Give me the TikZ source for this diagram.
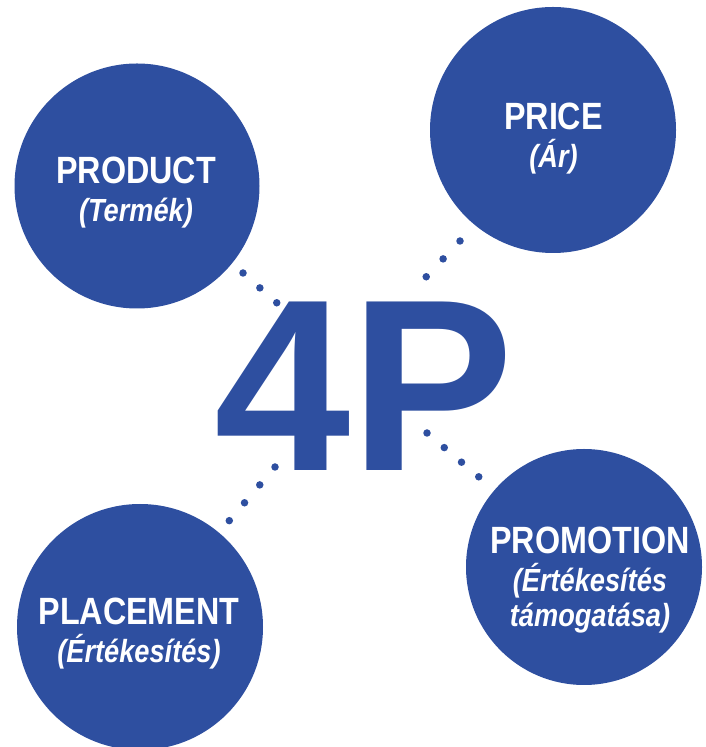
\documentclass[tikz,border=0pt]{standalone}
\usepackage{fontspec}
\setsansfont{Liberation Sans}
\newfontfamily\titlefont[FakeStretch=0.85]{Liberation Sans}
\newfontfamily\subfont[FakeStretch=0.85]{Liberation Sans}
\usetikzlibrary{calc}
\definecolor{pblue}{RGB}{46,79,160}

\begin{document}
\begin{tikzpicture}[
		x=1pt,y=1pt,
		disc/.style={circle,fill=pblue,inner sep=0pt},
		lbl/.style={text=white,align=center,inner sep=0pt,font=\fontsize{32}{38}\selectfont},
		dotchain/.style={pblue,line width=7.5pt,line cap=round,dash pattern=on 0pt off #1}
		]
		\useasboundingbox (0,0) rectangle (706,747);
		
		% --- the four circles
		\node[disc,minimum size=245pt] (product) at (137,561) {};
		\node[disc,minimum size=246pt] (price) at (553,617) {};
		\node[disc,minimum size=246pt] (placement) at (140,120) {};
		\node[disc,minimum size=236pt] (promotion) at (584,180) {};
		
		\node[lbl] (productT) at (136,554.5) {{\titlefont\bfseries\fontsize{38}{38}\selectfont PRODUCT}\\
			{\subfont\bfseries\itshape (Termék)}};
		\node[lbl] (priceT) at (553.5,608) {{\titlefont\bfseries\fontsize{38}{38}\selectfont PRICE}\\
			{\subfont\bfseries\itshape (Ár)}};
		\node[lbl] (placementT) at (139,113) {{\titlefont\bfseries\fontsize{38}{38}\selectfont PLACEMENT}\\
			{\subfont\bfseries\itshape (Értékesítés)}};
		\node[lbl] (promotionT) at (590,167) {{\titlefont\bfseries\fontsize{38}{38}\selectfont PROMOTION}\\
			{\subfont\bfseries\itshape (Értékesítés}\\[-3pt]
			{\subfont\bfseries\itshape támogatása)}};
		
		% --- big 4P in the middle
		\node[text=pblue,inner sep=0pt,anchor=base,font=\sffamily\bfseries\fontsize{245}{245}\selectfont] (fourP) at (364,276) {4P};
		
		% --- dotted links
		\coordinate (prodA) at (243,474);
		\coordinate (prodB) at (277,444);
		\coordinate (priceA) at (460,506);
		\coordinate (priceB) at (426,470);
		\coordinate (placeA) at (275,280);
		\coordinate (placeB) at (229,226);
		\coordinate (promoA) at (427,314);
		\coordinate (promoB) at (479,270);
		\draw[dotchain=22.5pt] (prodA) -- (prodB);
		\draw[dotchain=24.6pt] (priceA) -- (priceB);
		\draw[dotchain=23.5pt] (placeA) -- (placeB);
		\draw[dotchain=22.6pt] (promoA) -- (promoB);
		
	\end{tikzpicture}
\end{document}
